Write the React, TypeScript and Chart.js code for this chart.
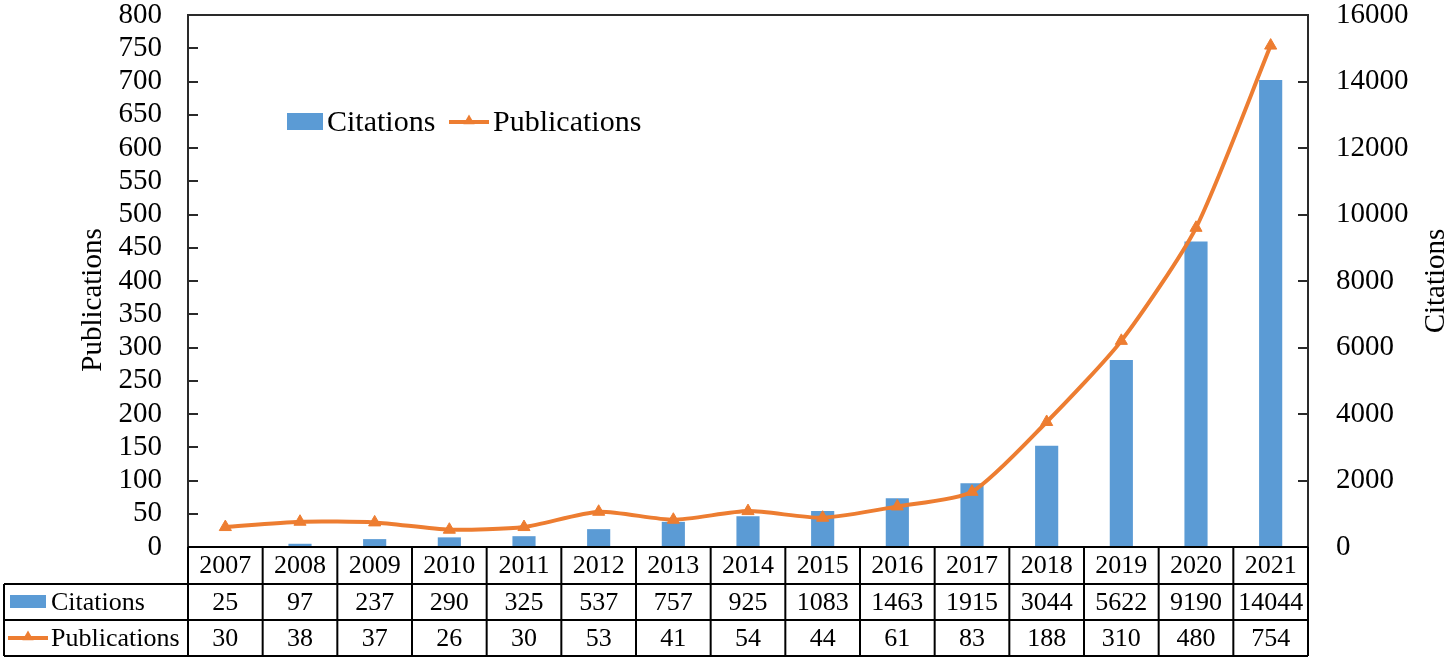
import React, { useEffect, useRef } from "react";
import { Chart, registerables } from "chart.js";

Chart.register(...registerables);

const years = ["2007", "2008", "2009", "2010", "2011", "2012", "2013", "2014", "2015", "2016", "2017", "2018", "2019", "2020", "2021"];
const citations = [25, 97, 237, 290, 325, 537, 757, 925, 1083, 1463, 1915, 3044, 5622, 9190, 14044];
const publications = [30, 38, 37, 26, 30, 53, 41, 54, 44, 61, 83, 188, 310, 480, 754];

const BLUE = "#5B9BD5";
const ORANGE = "#ED7D31";
const FONT = "'Liberation Serif', 'Times New Roman', serif";

function drawTriangle(ctx: CanvasRenderingContext2D, x: number, y: number, r: number) {
  ctx.beginPath();
  let rad = 0;
  ctx.moveTo(x + Math.sin(rad) * r, y - Math.cos(rad) * r);
  rad += (2 * Math.PI) / 3;
  ctx.lineTo(x + Math.sin(rad) * r, y - Math.cos(rad) * r);
  rad += (2 * Math.PI) / 3;
  ctx.lineTo(x + Math.sin(rad) * r, y - Math.cos(rad) * r);
  ctx.closePath();
  ctx.fillStyle = ORANGE;
  ctx.fill();
}

const overlay = {
  id: "overlay",
  afterDraw(chart: any) {
    const ctx: CanvasRenderingContext2D = chart.ctx;
    const ca = chart.chartArea;
    const yL = chart.scales.y;
    const yR = chart.scales.y1;
    const n = years.length;
    const colW = (ca.right - ca.left) / n;
    ctx.save();

    // frame
    ctx.strokeStyle = "#2a2a2a";
    ctx.lineWidth = 2;
    ctx.beginPath();
    ctx.moveTo(ca.left, ca.bottom);
    ctx.lineTo(ca.left, ca.top);
    ctx.lineTo(ca.right, ca.top);
    ctx.lineTo(ca.right, ca.bottom);
    ctx.stroke();
    // tick marks
    ctx.beginPath();
    yL.ticks.forEach((t: any) => {
      const py = Math.round(yL.getPixelForValue(t.value));
      ctx.moveTo(ca.left, py);
      ctx.lineTo(ca.left + 10, py);
    });
    yR.ticks.forEach((t: any) => {
      const py = Math.round(yR.getPixelForValue(t.value));
      ctx.moveTo(ca.right, py);
      ctx.lineTo(ca.right - 10, py);
    });
    ctx.stroke();

    // table
    const y0 = ca.bottom;
    const y1 = y0 + 37;
    const y2 = y1 + 36;
    const y3 = y2 + 36;
    const tableLeft = 4;
    ctx.strokeStyle = "#000";
    ctx.lineWidth = 2;
    ctx.beginPath();
    ctx.moveTo(ca.left, y0);
    ctx.lineTo(ca.right, y0);
    [y1, y2, y3].forEach((yy) => {
      ctx.moveTo(tableLeft, yy);
      ctx.lineTo(ca.right, yy);
    });
    ctx.moveTo(tableLeft, y1);
    ctx.lineTo(tableLeft, y3);
    for (let i = 0; i <= n; i++) {
      const xx = ca.left + i * colW;
      ctx.moveTo(xx, y0);
      ctx.lineTo(xx, y3);
    }
    ctx.stroke();

    ctx.fillStyle = "#000";
    ctx.font = `26px ${FONT}`;
    ctx.textAlign = "center";
    ctx.textBaseline = "middle";
    for (let i = 0; i < n; i++) {
      const cx = ca.left + (i + 0.5) * colW;
      ctx.fillText(years[i], cx, (y0 + y1) / 2 + 1);
      ctx.fillText(String(citations[i]), cx, (y1 + y2) / 2 + 1);
      ctx.fillText(String(publications[i]), cx, (y2 + y3) / 2 + 1);
    }
    // table legend keys
    ctx.fillStyle = BLUE;
    ctx.fillRect(10, 595, 36, 13);
    ctx.strokeStyle = ORANGE;
    ctx.lineWidth = 4;
    ctx.beginPath();
    ctx.moveTo(8, (y2 + y3) / 2);
    ctx.lineTo(48, (y2 + y3) / 2);
    ctx.stroke();
    drawTriangle(ctx, 28, (y2 + y3) / 2 - 1, 6.5);
    ctx.fillStyle = "#000";
    ctx.textAlign = "left";
    ctx.fillText("Citations", 51, (y1 + y2) / 2 + 1);
    ctx.fillText("Publications", 51, (y2 + y3) / 2 + 1);

    // chart legend
    ctx.font = `30px ${FONT}`;
    ctx.fillStyle = BLUE;
    ctx.fillRect(287, 113, 36, 17);
    ctx.strokeStyle = ORANGE;
    ctx.lineWidth = 4;
    ctx.beginPath();
    ctx.moveTo(449, 122);
    ctx.lineTo(489, 122);
    ctx.stroke();
    drawTriangle(ctx, 469, 121, 6.5);
    ctx.fillStyle = "#000";
    ctx.fillText("Citations", 327, 123);
    ctx.fillText("Publications", 493, 123);

    // axis titles
    ctx.font = `29px ${FONT}`;
    ctx.textAlign = "center";
    ctx.save();
    ctx.translate(93, 300);
    ctx.rotate(-Math.PI / 2);
    ctx.fillText("Publications", 0, 0);
    ctx.restore();
    ctx.save();
    ctx.translate(1436, 281);
    ctx.rotate(-Math.PI / 2);
    ctx.fillText("Citations", 0, 0);
    ctx.restore();

    ctx.restore();
  },
};

export default function App() {
  const ref = useRef<HTMLCanvasElement | null>(null);
  useEffect(() => {
    if (!ref.current) return;
    const chart = new Chart(ref.current, {
      type: "bar",
      data: {
        labels: years,
        datasets: [
          {
            type: "line",
            label: "Publications",
            data: publications,
            yAxisID: "y",
            borderColor: ORANGE,
            backgroundColor: ORANGE,
            borderWidth: 4,
            tension: 0.22,
            pointStyle: "triangle",
            pointRadius: 7,
            pointBorderWidth: 1,
            pointBackgroundColor: ORANGE,
            pointBorderColor: ORANGE,
            order: 0,
          } as any,
          {
            type: "bar",
            label: "Citations",
            data: citations,
            yAxisID: "y1",
            backgroundColor: BLUE,
            barPercentage: 0.31,
            categoryPercentage: 1,
            order: 1,
          },
        ],
      },
      options: {
        responsive: false,
        animation: false,
        layout: { padding: { top: 15, bottom: 114, left: 0, right: 0 } },
        plugins: { legend: { display: false }, tooltip: { enabled: false } },
        scales: {
          x: { display: false, offset: true, grid: { display: false } },
          y: {
            position: "left",
            min: 0,
            max: 800,
            ticks: {
              stepSize: 50,
              autoSkip: false,
              padding: 26,
              color: "#000",
              font: { family: FONT, size: 29 },
              callback: (v: any) => String(v),
            },
            grid: { display: false, drawTicks: false },
            border: { display: false },
            afterFit: (s: any) => {
              s.width = 188;
              s.paddingTop = 0;
              s.paddingBottom = 0;
            },
          },
          y1: {
            position: "right",
            min: 0,
            max: 16000,
            ticks: {
              stepSize: 2000,
              autoSkip: false,
              padding: 28,
              color: "#000",
              font: { family: FONT, size: 29 },
              callback: (v: any) => String(v),
            },
            grid: { display: false, drawTicks: false },
            border: { display: false },
            afterFit: (s: any) => {
              s.width = 142;
              s.paddingTop = 0;
              s.paddingBottom = 0;
            },
          },
        },
      },
      plugins: [overlay],
    });
    return () => chart.destroy();
  }, []);
  return (
    <div style={{ position: "absolute", left: 0, top: 0, width: 1450, height: 661, background: "#fff" }}>
      <canvas ref={ref} width={1450} height={661} style={{ width: 1450, height: 661, display: "block" }} />
    </div>
  );
}
